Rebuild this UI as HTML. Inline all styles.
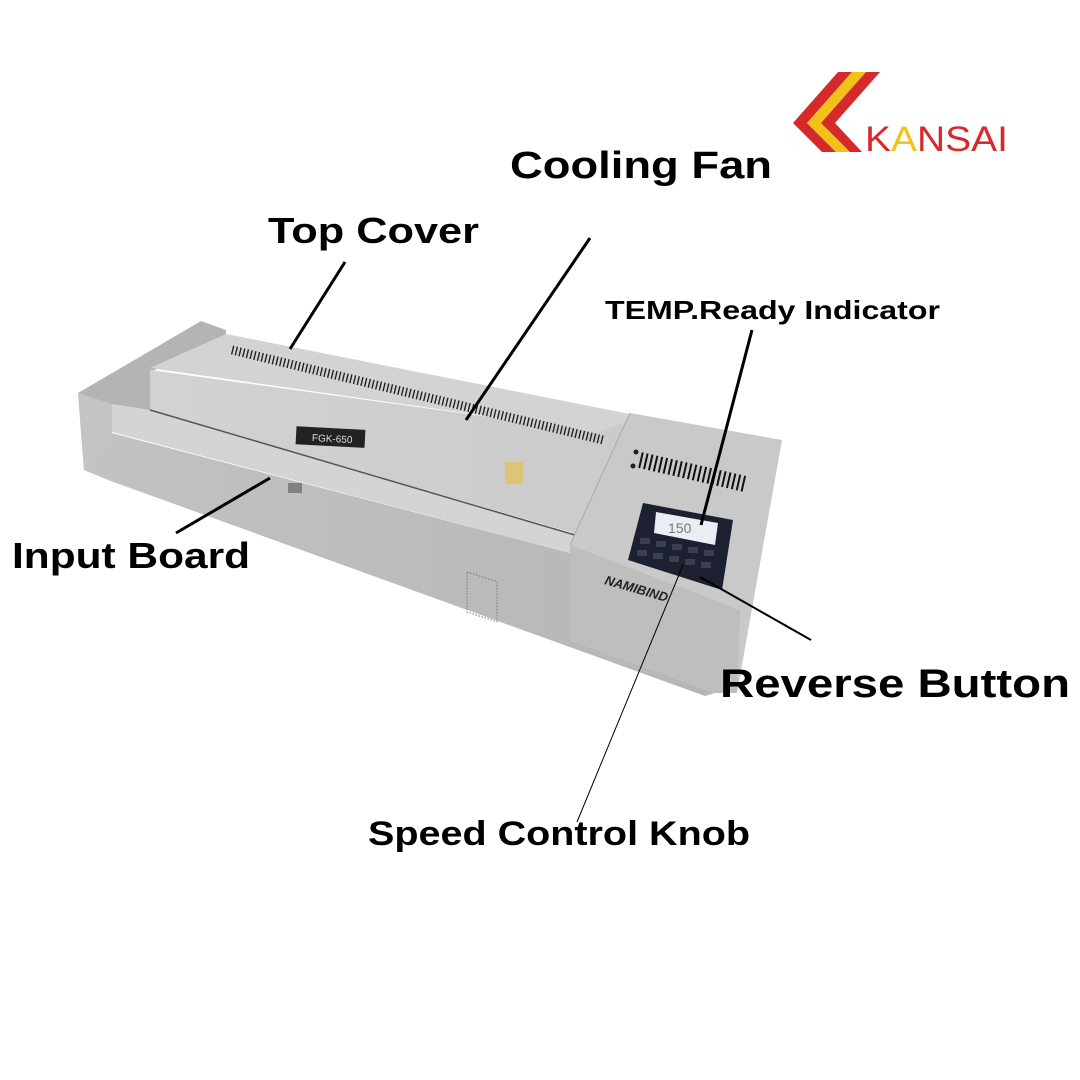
<!DOCTYPE html>
<html><head><meta charset="utf-8"><style>
html,body{margin:0;padding:0;background:#fff;}
svg{display:block;}
text{font-family:"Liberation Sans",Arial,sans-serif;font-weight:bold;fill:#000;}
</style></head><body>
<svg width="1080" height="1080" viewBox="0 0 1080 1080" xmlns="http://www.w3.org/2000/svg">
<defs>
<linearGradient id="front" x1="0" y1="0" x2="1" y2="0">
<stop offset="0" stop-color="#c2c2c2"/><stop offset="1" stop-color="#b6b6b6"/></linearGradient>
<linearGradient id="cov" x1="0" y1="0" x2="1" y2="0">
<stop offset="0" stop-color="#d2d2d2"/><stop offset="1" stop-color="#cbcbcb"/></linearGradient>
</defs>
<rect width="1080" height="1080" fill="#fff"/>
<!-- logo -->
<polygon points="793,123 838,72 852,72 807,123 836,152 822,152" fill="#d62a2a"/>
<polygon points="807,123 852,72 866,72 821,123 850,152 836,152" fill="#f2c21a"/>
<polygon points="821,123 866,72 880,72 835,123 862,152 850,152" fill="#d62a2a"/>
<text x="865" y="151" font-size="35" textLength="143" lengthAdjust="spacingAndGlyphs" style="font-weight:normal;fill:#d62a2a">K<tspan style="fill:#f2c21a">A</tspan>NSAI</text>
<!-- base front face -->
<polygon points="108,432 570,553 570,640 715,693 705,696 108,480 84,470 84,400" fill="url(#front)"/>
<!-- left block -->
<polygon points="78,393 201,321 226,330 226,340 150,372 150,410 112,432 84,470" fill="#b4b4b4"/>
<polygon points="78,393 112,404 112,440 84,470" fill="#c4c4c4"/>
<!-- input board -->
<polygon points="112,404 150,410 575,535 570,553 112,432" fill="#d4d4d4"/>
<!-- top cover top -->
<polygon points="150,368 226,334 640,416 632,440 598,432" fill="#d3d3d3"/>
<!-- top cover front -->
<polygon points="150,370 598,432 630,420 600,500 580,535 150,410" fill="url(#cov)"/>
<line x1="150" y1="410" x2="575" y2="535" stroke="#555" stroke-width="1.5"/>
<rect x="296" y="428" width="69" height="18" fill="#222" transform="rotate(3 330 437)"/>
<text x="312" y="442" font-size="10" style="font-weight:normal;fill:#ddd" transform="rotate(3 330 437)">FGK-650</text>
<rect x="505" y="462" width="18" height="22" fill="#e8c040" opacity="0.6"/>
<line x1="232" y1="350" x2="603" y2="440" stroke="#222" stroke-width="9" stroke-dasharray="1.4 2.4"/>
<!-- control box -->
<polygon points="630,413 782,440 737,693 715,693 570,640 570,545" fill="#c9c9c9"/>
<polygon points="570,545 740,610 737,693 715,693 570,640" fill="#bebebe"/>
<line x1="630" y1="413" x2="570" y2="545" stroke="#aaa" stroke-width="1"/>
<line x1="640" y1="460" x2="745" y2="484" stroke="#111" stroke-width="16" stroke-dasharray="2 3"/>
<circle cx="636" cy="452" r="2.5" fill="#222"/><circle cx="633" cy="466" r="2.5" fill="#222"/>
<polygon points="643,503 733,520 722,590 628,560" fill="#1c2030"/>
<polygon points="656,512 718,523 715,545 654,533" fill="#e8eef4"/>
<text x="668" y="533" font-size="14" style="font-weight:normal;fill:#777">150</text>
<g fill="#3a3f50">
<rect x="640" y="538" width="10" height="6"/><rect x="656" y="541" width="10" height="6"/><rect x="672" y="544" width="10" height="6"/><rect x="688" y="547" width="10" height="6"/><rect x="704" y="550" width="10" height="6"/>
<rect x="637" y="550" width="10" height="6"/><rect x="653" y="553" width="10" height="6"/><rect x="669" y="556" width="10" height="6"/><rect x="685" y="559" width="10" height="6"/><rect x="701" y="562" width="10" height="6"/>
</g>
<text x="604" y="584" font-size="13" transform="rotate(16 604 584)" style="fill:#222;font-style:italic">NAMIBIND</text>
<g transform="translate(467,572)"><rect width="30" height="40" fill="none" stroke="#777" stroke-width="1" stroke-dasharray="1.5 1.5" transform="skewY(18)"/></g>
<rect x="288" y="483" width="14" height="10" fill="#444" opacity="0.5"/>
<!-- leader lines -->
<g stroke="#000" fill="none">
<line x1="345" y1="262" x2="290" y2="349" stroke-width="3"/>
<line x1="590" y1="238" x2="466" y2="420" stroke-width="3"/>
<line x1="752" y1="330" x2="701" y2="525" stroke-width="3"/>
<line x1="270" y1="478" x2="176" y2="533" stroke-width="3"/>
<line x1="700" y1="577" x2="811" y2="640" stroke-width="2"/>
<line x1="683" y1="565" x2="577" y2="822" stroke-width="1"/>
</g>
<text x="510" y="178" font-size="38" textLength="262" lengthAdjust="spacingAndGlyphs">Cooling Fan</text>
<text x="268" y="243" font-size="36" textLength="211" lengthAdjust="spacingAndGlyphs">Top Cover</text>
<text x="605" y="319" font-size="26" textLength="335" lengthAdjust="spacingAndGlyphs">TEMP.Ready Indicator</text>
<text x="12" y="568" font-size="36" textLength="238" lengthAdjust="spacingAndGlyphs">Input Board</text>
<text x="720" y="697" font-size="40" textLength="350" lengthAdjust="spacingAndGlyphs">Reverse Button</text>
<text x="368" y="845" font-size="34" textLength="382" lengthAdjust="spacingAndGlyphs">Speed Control Knob</text>
</svg>
</body></html>
